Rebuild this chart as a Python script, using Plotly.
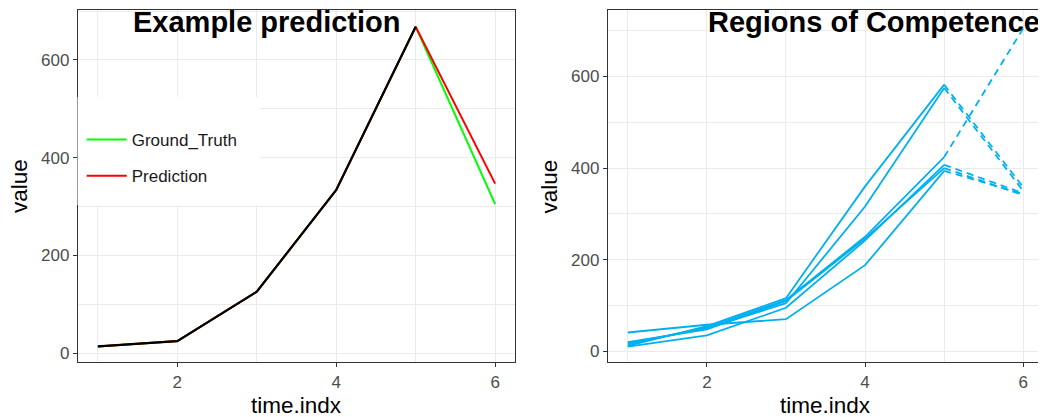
import plotly.graph_objects as go

# ---------------- data ----------------
time_indx = [1, 2, 3, 4, 5, 6]

# left panel
ground_truth = [14, 25, 126, 334, 668, 305]
prediction = [14, 25, 126, 334, 668, 347]
observed = [14, 25, 126, 334, 668]          # black input line, t = 1..5

# right panel: each series observed for t=1..5 (solid), forecast t=5..6 (dashed)
competence_series = [
    [12, 55, 116, 360, 582, 358],
    [18, 50, 105, 316, 575, 350],
    [15, 52, 112, 250, 424, 705],
    [10, 35, 95, 242, 407, 345],
    [20, 48, 110, 246, 400, 341],
    [41, 58, 70, 188, 394, 343],
]

x_ticks = [2, 4, 6]
y_ticks = [0, 200, 400, 600]

# ---------------- layout helpers ----------------
# page body has an 8px margin, so the figure is drawn 8px in from the window edge
W, H = 1038, 409
OFF = 8
FONT = "Liberation Sans, Arial, Helvetica, sans-serif"
BLUE = "#00B0F0"


def px_x(p):
    """screen x (reference pixels) -> paper x"""
    return (p - OFF) / W


def px_y(p):
    """screen y (reference pixels) -> paper y"""
    return 1 - (p - OFF) / H


fig = go.Figure()

# left panel traces
fig.add_trace(go.Scatter(x=time_indx, y=ground_truth, mode="lines", name="Ground_Truth",
                         line=dict(color="#00FF00", width=2), legendgroup="gt",
                         xaxis="x", yaxis="y"))
fig.add_trace(go.Scatter(x=time_indx, y=prediction, mode="lines", name="Prediction",
                         line=dict(color="#FF0000", width=2), legendgroup="pr",
                         xaxis="x", yaxis="y"))
fig.add_trace(go.Scatter(x=time_indx[:5], y=observed, mode="lines", name="observed",
                         line=dict(color="#000000", width=2.2), showlegend=False,
                         xaxis="x", yaxis="y"))

# right panel traces
for s in competence_series:
    fig.add_trace(go.Scatter(x=time_indx[:5], y=s[:5], mode="lines", showlegend=False,
                             line=dict(color=BLUE, width=1.8), xaxis="x2", yaxis="y2"))
    fig.add_trace(go.Scatter(x=time_indx[4:], y=s[4:], mode="lines", showlegend=False,
                             line=dict(color=BLUE, width=1.8, dash="7px,5px"),
                             xaxis="x2", yaxis="y2"))

grid_col = "#EBEBEB"
axis_common = dict(
    showline=True, linecolor="#333333", linewidth=1.3,
    ticks="outside", ticklen=4, tickcolor="#333333", tickwidth=1.1,
    tickfont=dict(family=FONT, size=17, color="#4D4D4D"),
    showgrid=True, gridcolor=grid_col, gridwidth=1.4,
    zeroline=False, automargin=False, fixedrange=True,
)

y_dom = [px_y(362.3), px_y(10)]

fig.update_layout(
    width=W, height=H,
    margin=dict(l=0, r=0, t=0, b=0, pad=0),
    paper_bgcolor="white", plot_bgcolor="white",
    font=dict(family=FONT, color="black"),
    xaxis=dict(domain=[px_x(78), px_x(515)], range=[0.75, 6.25], tickvals=x_ticks,
               minor=dict(tickvals=[1, 3, 5], showgrid=True, gridcolor=grid_col,
                          gridwidth=1, ticks=""),
               mirror=True, anchor="y", **axis_common),
    yaxis=dict(domain=y_dom, range=[-18.4, 702.2], tickvals=y_ticks,
               minor=dict(tickvals=[100, 300, 500, 700], showgrid=True, gridcolor=grid_col,
                          gridwidth=1, ticks=""),
               mirror=True, anchor="x", **axis_common),
    xaxis2=dict(domain=[px_x(608), 1.0], range=[0.75, 0.75 + (W + OFF - 608) / 79.1],
                tickvals=x_ticks,
                minor=dict(tickvals=[1, 3, 5], showgrid=True, gridcolor=grid_col,
                           gridwidth=1, ticks=""),
                mirror=True, anchor="y2", **axis_common),
    yaxis2=dict(domain=y_dom, range=[-24, 745], tickvals=y_ticks,
                minor=dict(tickvals=[100, 300, 500, 700], showgrid=True, gridcolor=grid_col,
                           gridwidth=1, ticks=""),
                mirror=False, anchor="x2", **axis_common),
    showlegend=True,
    legend=dict(x=px_x(81.7), xanchor="left", y=1 - 114 / H, yanchor="top",
                bgcolor="rgba(0,0,0,0)", borderwidth=0,
                font=dict(family=FONT, size=17, color="#1A1A1A"),
                traceorder="grouped", tracegroupgap=11, itemwidth=40),
)

# legend background box (covers grid + panel border like the reference)
fig.add_shape(type="rect", xref="paper", yref="paper",
              x0=px_x(77.5), x1=px_x(260), y0=px_y(205), y1=px_y(97),
              fillcolor="white", line=dict(width=0), layer="above")

# titles
fig.add_annotation(text="<b>Example prediction</b>", xref="paper", yref="paper",
                   x=px_x(131), y=px_y(22), xanchor="left", yanchor="middle",
                   showarrow=False, font=dict(family=FONT, size=29, color="black"))
fig.add_annotation(text="<b>Regions of Competence</b>", xref="paper", yref="paper",
                   x=px_x(706), y=px_y(22), xanchor="left", yanchor="middle",
                   showarrow=False, font=dict(family=FONT, size=29, color="black"))

# axis titles
for xc in (296.5, 825.5):
    fig.add_annotation(text="time.indx", xref="paper", yref="paper",
                       x=px_x(xc), y=px_y(405), xanchor="center", yanchor="middle",
                       showarrow=False, font=dict(family=FONT, size=22.5, color="black"))
for xc in (19.5, 549):
    fig.add_annotation(text="value", xref="paper", yref="paper", textangle=-90,
                       x=px_x(xc), y=px_y(186.5), xanchor="center", yanchor="middle",
                       showarrow=False, font=dict(family=FONT, size=22.5, color="black"))

fig.write_html("out.html")
